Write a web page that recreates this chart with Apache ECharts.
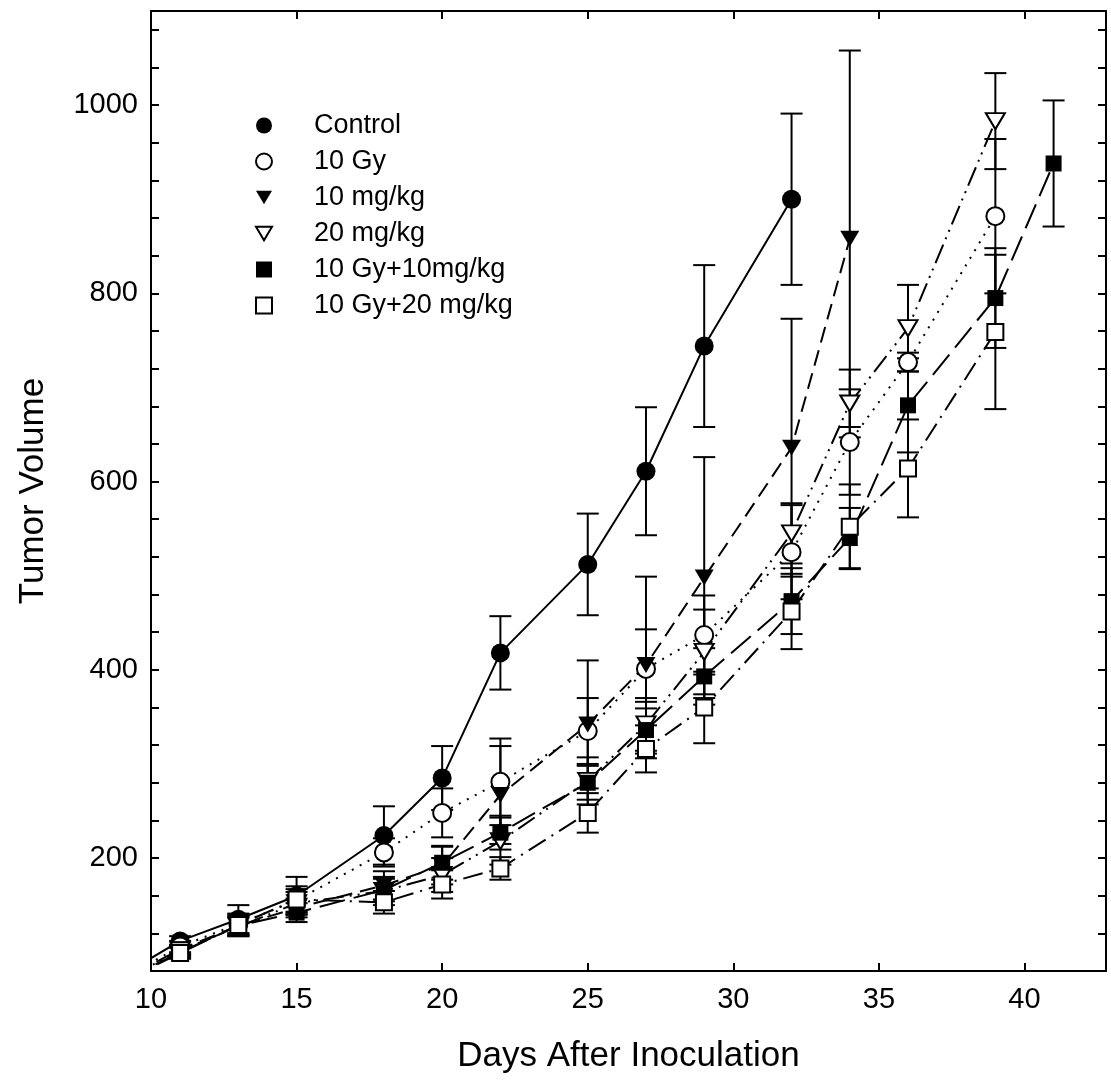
<!DOCTYPE html>
<html>
<head>
<meta charset="utf-8">
<title>Tumor Volume</title>
<script src="https://cdn.jsdelivr.net/npm/echarts@6/dist/echarts.min.js"></script>
<style>
  html, body { margin: 0; padding: 0; background: #fff; }
  #chart { width: 1111px; height: 1083px; }
</style>
</head>
<body>
<div id="chart"></div>
<script>
// Measurement days after inoculation
const days = [8, 11, 13, 15, 18, 20, 22, 25, 27, 29, 32, 34, 36, 39, 41];

// Group means and standard deviations (null = not measured)
const controlMean = [57, 112, 135, 160, 224, 285, 418, 512, 611, 744, 900, null, null, null, null];
const controlSd   = [4, 5, 15, 20, 31, 34, 39, 54, 68, 86, 91, null, null, null, null];

const gy10Mean = [55, 106, 130, 155, 206, 248, 281, 335, 401, 437, 525, 642, 727, 882, null];
const gy10Sd   = [4, 6, 10, 12, 15, 26, 46, 35, 42, 42, 50, 56, 10, 82, null];

const mg10Mean = [54, 103, 128, 147, 171, 192, 267, 342, 405, 498, 636, 858, null, null, null];
const mg10Sd   = [4, 5, 10, 10, 15, 20, 52, 68, 94, 128, 137, 200, null, null, null];

const mg20Mean = [53, 102, 127, 152, 165, 182, 218, 282, 342, 419, 545, 683, 763, 983, null];
const mg20Sd   = [4, 5, 10, 12, 15, 18, 25, 25, 28, 45, 32, 36, 46, 51, null];

const gy10mg10Mean = [54, 100, 128, 142, 166, 195, 227, 280, 336, 393, 473, 540, 681, 795, 938];
const gy10mg10Sd   = [4, 5, 10, 10, 12, 18, 18, 18, 30, 30, 35, 32, 50, 53, 67];

const gy10mg20Mean = [53, 99, 129, 156, 153, 172, 189, 248, 316, 360, 462, 552, 614, 759, null];
const gy10mg20Sd   = [4, 6, 12, 14, 12, 15, 12, 21, 25, 38, 40, 45, 52, 82, null];

const groupNames = ['Control', '10 Gy', '10 mg/kg', '20 mg/kg', '10 Gy+10mg/kg', '10 Gy+20 mg/kg'];
const groupMeans = [controlMean, gy10Mean, mg10Mean, mg20Mean, gy10mg10Mean, gy10mg20Mean];
const groupSds   = [controlSd, gy10Sd, mg10Sd, mg20Sd, gy10mg10Sd, gy10mg20Sd];

// Tick labels
const xTickLabels = [10, 15, 20, 25, 30, 35, 40];
const yTickLabels = [200, 400, 600, 800, 1000];

// Marker and line appearance per group
const FONT = '"Liberation Sans", Arial, Helvetica, sans-serif';
const DOWN_TRI = 'path://M0,0L20,0L10,17Z';
const looks = [
  { symbol: 'circle', size: 19,       legendIcon: 'circle', fill: '#000', border: 0, dash: 'solid' },
  { symbol: 'circle', size: 18,       legendIcon: 'circle', fill: '#fff', border: 2, dash: [2, 7] },
  { symbol: DOWN_TRI, size: [19, 16], legendIcon: DOWN_TRI, fill: '#000', border: 0, dash: [16, 8] },
  { symbol: DOWN_TRI, size: [19, 16], legendIcon: DOWN_TRI, fill: '#fff', border: 2, dash: [20, 6, 2, 6, 2, 6] },
  { symbol: 'rect',   size: 16,       legendIcon: 'rect',   fill: '#000', border: 0, dash: [26, 9] },
  { symbol: 'rect',   size: 16,       legendIcon: 'rect',   fill: '#fff', border: 2, dash: [20, 7, 2, 7] }
];

function points(means) {
  const out = [];
  days.forEach((d, i) => { if (means[i] != null) out.push([d, means[i]]); });
  return out;
}
function ranges(means, sds) {
  const out = [];
  days.forEach((d, i) => { if (means[i] != null) out.push([d, means[i] - sds[i], means[i] + sds[i]]); });
  return out;
}

function renderErrorBar(params, api) {
  const x = api.value(0);
  const top = api.coord([x, api.value(2)]);
  const bot = api.coord([x, api.value(1)]);
  const hw = 11;
  const st = { stroke: '#000', lineWidth: 2 };
  return {
    type: 'group',
    children: [
      { type: 'line', shape: { x1: top[0], y1: top[1], x2: bot[0], y2: bot[1] }, style: st },
      { type: 'line', shape: { x1: top[0] - hw, y1: top[1], x2: top[0] + hw, y2: top[1] }, style: st },
      { type: 'line', shape: { x1: bot[0] - hw, y1: bot[1], x2: bot[0] + hw, y2: bot[1] }, style: st }
    ]
  };
}

const series = [];
groupNames.forEach((name, g) => {
  series.push({
    name: name + ' SD',
    type: 'custom',
    xAxisIndex: 0, yAxisIndex: 0,
    renderItem: renderErrorBar,
    data: ranges(groupMeans[g], groupSds[g]),
    encode: { x: 0, y: [1, 2] },
    clip: true,
    z: 1,
    silent: true
  });
});
groupNames.forEach((name, g) => {
  const lk = looks[g];
  series.push({
    name: name,
    type: 'line',
    xAxisIndex: 0, yAxisIndex: 0,
    data: points(groupMeans[g]),
    symbol: lk.symbol,
    symbolSize: lk.size,
    showSymbol: true,
    showAllSymbol: true,
    clip: true,
    z: 2,
    lineStyle: { color: '#000', width: 2, type: lk.dash, cap: 'butt' },
    itemStyle: { color: lk.fill, borderColor: '#000', borderWidth: lk.border },
    emphasis: { disabled: true },
    silent: true
  });
});

const axisLine = { show: true, onZero: false, lineStyle: { color: '#000', width: 2 } };
const axisTick = { show: true, inside: true, length: 8, lineStyle: { color: '#000', width: 2 } };

const option = {
  animation: false,
  backgroundColor: '#fff',
  grid: { left: 151, right: 5, top: 11, bottom: 112, outerBoundsMode: 'none', containLabel: false },
  legend: {
    orient: 'vertical',
    left: 255,
    top: 112,
    padding: 0,
    itemWidth: 16,
    itemHeight: 16,
    itemGap: 9,
    selectedMode: false,
    data: groupNames.map((n, g) => ({ name: n, icon: looks[g].legendIcon })),
    textStyle: { fontFamily: FONT, fontSize: 27, color: '#000', lineHeight: 27, padding: [0, 0, 0, 37] }
  },
  xAxis: [
    {
      type: 'value', position: 'bottom', min: 10, max: 42.8, interval: 5,
      axisLine, axisTick, splitLine: { show: false },
      axisLabel: {
        fontFamily: FONT, fontSize: 29, color: '#000', margin: 14,
        formatter: v => xTickLabels.includes(v) ? String(v) : ''
      },
      name: 'Days After Inoculation', nameLocation: 'middle', nameGap: 68,
      nameTextStyle: { fontFamily: FONT, fontSize: 35, color: '#000' }
    },
    {
      type: 'value', position: 'top', min: 10, max: 42.8, interval: 5,
      axisLine, axisTick, splitLine: { show: false }, axisLabel: { show: false }
    }
  ],
  yAxis: [
    {
      type: 'value', position: 'left', min: 80, max: 1100, interval: 40,
      axisLine, axisTick, splitLine: { show: false },
      axisLabel: {
        fontFamily: FONT, fontSize: 29, color: '#000', margin: 13,
        formatter: v => yTickLabels.includes(v) ? String(v) : ''
      },
      name: 'Tumor Volume', nameLocation: 'middle', nameGap: 100, nameRotate: 90,
      nameTextStyle: { fontFamily: FONT, fontSize: 35, color: '#000' }
    },
    {
      type: 'value', position: 'right', min: 80, max: 1100, interval: 40,
      axisLine, axisTick, splitLine: { show: false }, axisLabel: { show: false }
    }
  ],
  series: series
};

const chart = echarts.init(document.getElementById('chart'), null, { renderer: 'canvas' });
chart.setOption(option);
</script>
</body>
</html>
